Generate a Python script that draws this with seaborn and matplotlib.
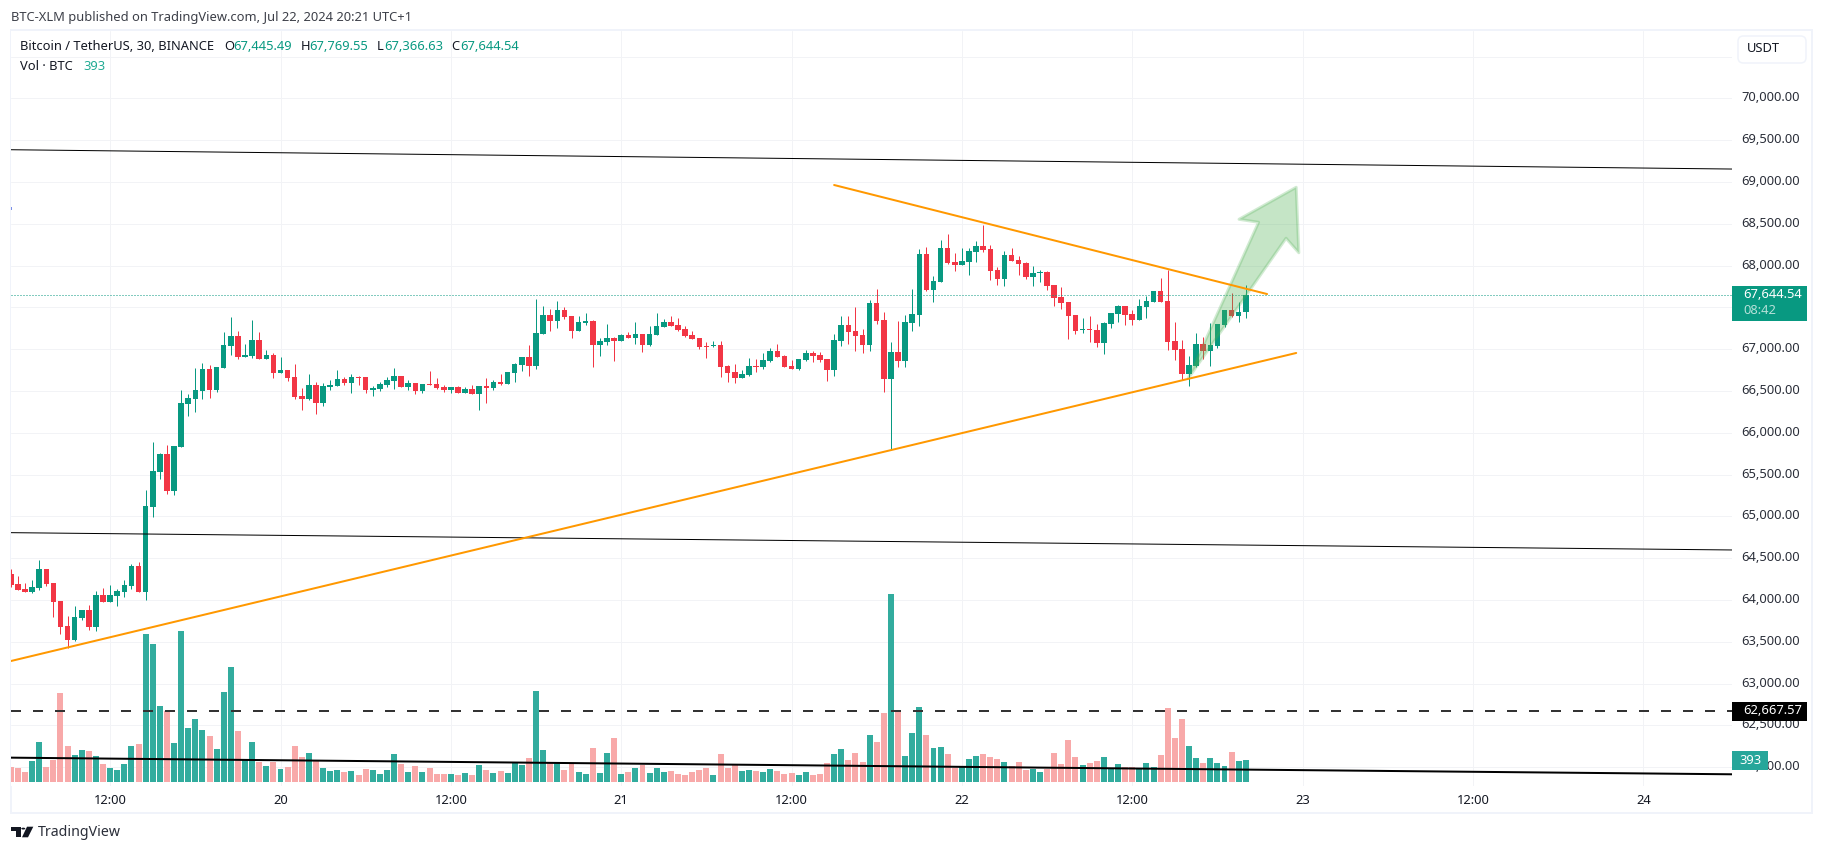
import numpy as np
import pandas as pd
import matplotlib
matplotlib.use("Agg")
import matplotlib.pyplot as plt
from matplotlib.patches import Polygon, Rectangle, Circle, FancyBboxPatch
from matplotlib.transforms import ScaledTranslation
import seaborn as sns

# bars are counted from 20 Jul 00:00, one step = 30 minutes
first_bar = -38
opens = [
    64312, 64192, 64132, 64096, 64144, 64372, 64204, 63988, 63688, 63520,
    63784, 63880, 63676, 64060, 63976, 64048, 64096, 64168, 64408, 64096,
    65116, 65536, 65740, 65308, 65824, 66340, 66400, 66496, 66760, 66508,
    66772, 67036, 67156, 66904, 66916, 67108, 66880, 66928, 66712, 66748,
    66664, 66436, 66400, 66568, 66352, 66544, 66556, 66640, 66592, 66664,
    66664, 66508, 66520, 66568, 66616, 66676, 66544, 66592, 66496, 66580,
    66580, 66544, 66508, 66544, 66472, 66520, 66460, 66556, 66532, 66604,
    66580, 66712, 66808, 66904, 66796, 67180, 67408, 67336, 67468, 67396,
    67216, 67312, 67336, 67048, 67084, 67132, 67096, 67168, 67132, 67180,
    67048, 67168, 67264, 67324, 67288, 67240, 67168, 67132, 67036, 67036,
    67048, 66796, 66724, 66652, 66688, 66796, 66784, 66856, 66976, 66916,
    66796, 66760, 66868, 66952, 66928, 66880, 66748, 67096, 67288, 67216,
    67168, 67048, 67552, 67352, 66644, 66968, 66860, 67316, 67412, 68132,
    67712, 67808, 68204, 68048, 68012, 68048, 68156, 68228, 68192, 67952,
    67844, 68120, 68072, 68036, 67868, 67916, 67928, 67772, 67628, 67568,
    67412, 67232, 67244, 67232, 67076, 67304, 67424, 67520, 67424, 67352,
    67508, 67568, 67700, 67580, 67100, 67004, 66704, 66800, 67064, 66980,
    67040, 67292, 67472, 67400, 67445.49,
]
closes = [
    64180, 64120, 64096, 64156, 64372, 64192, 63976, 63676, 63520, 63796,
    63880, 63676, 64060, 63976, 64060, 64108, 64180, 64408, 64096, 65128,
    65548, 65740, 65308, 65836, 66352, 66412, 66508, 66760, 66508, 66784,
    67048, 67156, 66904, 66928, 67108, 66880, 66928, 66712, 66748, 66652,
    66424, 66400, 66568, 66352, 66556, 66568, 66640, 66592, 66664, 66652,
    66508, 66532, 66580, 66628, 66676, 66544, 66592, 66496, 66580, 66568,
    66532, 66508, 66544, 66472, 66520, 66460, 66556, 66532, 66604, 66580,
    66724, 66820, 66904, 66796, 67192, 67408, 67336, 67468, 67384, 67216,
    67324, 67336, 67048, 67096, 67132, 67096, 67168, 67132, 67180, 67048,
    67180, 67276, 67324, 67276, 67228, 67156, 67120, 67024, 67024, 67048,
    66784, 66712, 66652, 66700, 66796, 66784, 66868, 66976, 66904, 66784,
    66760, 66880, 66952, 66916, 66868, 66748, 67108, 67288, 67204, 67156,
    67048, 67552, 67336, 66644, 66968, 66860, 67328, 67424, 68132, 67712,
    67820, 68204, 68036, 68012, 68060, 68168, 68228, 68180, 67940, 67844,
    68120, 68060, 68024, 67868, 67916, 67928, 67760, 67616, 67556, 67400,
    67220, 67244, 67232, 67076, 67316, 67436, 67520, 67412, 67352, 67520,
    67580, 67700, 67568, 67088, 66992, 66704, 66812, 67064, 66980, 67052,
    67304, 67472, 67400, 67448, 67644.54,
]
highs = [
    64372, 64288, 64204, 64240, 64480, 64372, 64204, 63988, 63808, 63928,
    63880, 63940, 64108, 64144, 64180, 64132, 64240, 64432, 64456, 65320,
    65884, 65752, 65848, 65836, 66508, 66460, 66772, 66832, 66808, 66784,
    67204, 67384, 67216, 67060, 67348, 67204, 66988, 66952, 66904, 66748,
    66820, 66532, 66700, 66604, 66592, 66628, 66748, 66664, 66700, 66676,
    66664, 66556, 66604, 66664, 66772, 66676, 66628, 66592, 66580, 66736,
    66652, 66568, 66544, 66556, 66544, 66568, 66556, 66652, 66628, 66700,
    66724, 66832, 66904, 67048, 67600, 67516, 67480, 67576, 67504, 67396,
    67396, 67432, 67348, 67132, 67300, 67144, 67180, 67204, 67324, 67180,
    67276, 67432, 67360, 67396, 67372, 67276, 67216, 67132, 67084, 67096,
    67096, 66808, 66820, 66748, 66892, 66880, 66952, 67012, 67060, 66928,
    66868, 66880, 66988, 66976, 66964, 66880, 67180, 67396, 67396, 67504,
    67240, 67588, 67720, 67448, 67088, 67340, 67412, 67724, 68192, 68216,
    67880, 68300, 68372, 68144, 68204, 68204, 68288, 68480, 68240, 67988,
    68168, 68204, 68108, 68048, 68000, 67952, 67940, 67772, 67748, 67568,
    67412, 67376, 67400, 67304, 67328, 67436, 67532, 67520, 67472, 67604,
    67640, 67700, 67856, 67952, 67328, 67112, 66920, 67196, 67148, 67316,
    67304, 67472, 67676, 67568, 67769.55,
]
lows = [
    64156, 64120, 64096, 64084, 64120, 64168, 63796, 63592, 63424, 63508,
    63760, 63640, 63628, 63976, 63976, 63928, 64036, 64132, 64096, 64000,
    64996, 65452, 65272, 65260, 65824, 66196, 66244, 66400, 66412, 66484,
    66772, 66928, 66880, 66904, 66892, 66880, 66880, 66652, 66712, 66616,
    66400, 66268, 66388, 66220, 66316, 66508, 66556, 66568, 66472, 66568,
    66472, 66436, 66496, 66544, 66520, 66544, 66508, 66460, 66472, 66568,
    66520, 66484, 66472, 66472, 66472, 66460, 66268, 66352, 66508, 66568,
    66580, 66604, 66736, 66676, 66760, 67180, 67216, 67252, 67360, 67132,
    67216, 67288, 66784, 66916, 67048, 66856, 67096, 67132, 67060, 66964,
    67036, 67168, 67264, 67276, 67216, 67144, 67120, 67000, 66892, 67024,
    66664, 66604, 66592, 66652, 66676, 66724, 66760, 66844, 66904, 66784,
    66760, 66748, 66856, 66844, 66844, 66616, 66676, 67036, 67060, 66976,
    66952, 66976, 67300, 66488, 65792, 66788, 66788, 67220, 67280, 67700,
    67568, 67808, 68024, 67940, 68012, 67892, 68048, 68156, 67832, 67772,
    67760, 68060, 67892, 67844, 67760, 67808, 67712, 67520, 67484, 67124,
    67184, 67196, 67088, 67028, 66944, 67256, 67328, 67292, 67292, 67352,
    67376, 67568, 67568, 66992, 66872, 66632, 66560, 66788, 66884, 66800,
    67016, 67268, 67388, 67328, 67366.63,
]
volumes = [
    264, 246, 174, 372, 714, 264, 390, 1596, 642, 480,
    570, 552, 462, 318, 246, 210, 318, 642, 678, 2658,
    2478, 1362, 1272, 696, 2712, 966, 1128, 930, 822, 588,
    1614, 2064, 912, 390, 714, 354, 282, 354, 228, 264,
    642, 444, 516, 372, 246, 192, 210, 174, 192, 120,
    228, 210, 138, 210, 498, 318, 174, 282, 174, 246,
    138, 138, 138, 120, 156, 120, 300, 210, 156, 192,
    156, 336, 300, 426, 1632, 570, 336, 336, 210, 336,
    174, 138, 606, 156, 516, 786, 138, 174, 246, 300,
    156, 246, 174, 192, 138, 120, 174, 210, 246, 120,
    498, 246, 300, 192, 210, 192, 174, 228, 192, 138,
    156, 120, 174, 120, 138, 336, 498, 588, 390, 516,
    354, 840, 714, 1236, 3378, 1254, 462, 876, 1344, 840,
    606, 624, 498, 252, 264, 408, 462, 498, 444, 408,
    354, 282, 354, 210, 228, 174, 228, 516, 318, 750,
    444, 300, 336, 372, 444, 228, 318, 264, 264, 228,
    336, 264, 480, 1326, 786, 1128, 642, 426, 336, 426,
    336, 282, 534, 372, 393,
]

# drawn trend lines (bar position, price)
channel_top_x, channel_top_y = [-37.97, 204.5], [69385, 69154]
channel_mid_x, channel_mid_y = [-37.97, 204.5], [64805, 64598]
channel_low_x, channel_low_y = [-37.97, 204.5], [62114, 61915]
support_x, support_y = [-37.97, 143.1], [63270, 66954]
resist_x, resist_y = [78.0, 139.0], [68963, 67659]
arrow_x = [127.9, 137.8, 135.05, 143.1, 143.47, 141.67]
arrow_y = [66651, 68517, 68553, 68936, 68153, 68326]
dashed_level = 62667.57
last_price = 67644.54

price_ticks = [62000 + 500 * k for k in range(18)]
time_ticks = [-24, 0, 24, 48, 72, 96, 120, 144, 168, 192]
time_labels = ["12:00", "20", "12:00", "21", "12:00", "22", "12:00", "23", "12:00", "24"]

GREEN = "#089981"
RED = "#F23645"
VOL_GREEN = "#32AC9E"
VOL_RED = "#F8A9A9"
GRID = "#F2F3F6"
FRAME = "#F0F3FA"
INK = "#131722"
PX = 0.72  # one pixel in points at dpi 100
W, H = 1824, 852

sns.set_theme(style="white")
plt.rcParams["font.family"] = ["Noto Sans", "DejaVu Sans"]

df = pd.DataFrame({"open": opens, "high": highs, "low": lows, "close": closes, "vol": volumes})
df["bar"] = np.arange(first_bar, first_bar + len(df))
df["up"] = df["close"] >= df["open"]

fig = plt.figure(figsize=(W / 100, H / 100), dpi=100, facecolor="white")


def fx(x, y):
    return x / W, 1 - y / H


# pane runs from x=11 to 1732 and y=31 to 786 in pixels
ax = fig.add_axes([11 / W, 1 - 786 / H, (1732 - 11) / W, (786 - 31) / H])
ax.set_facecolor("white")
ax.set_xlim(-37.97, 204.5)
ax.set_ylim(61775, 70805)
for s in ax.spines.values():
    s.set_visible(False)
ax.grid(True, color=GRID, lw=PX)
ax.set_axisbelow(True)

# candles
wick_colors = [GREEN if u else RED for u in df["up"]]
ax.vlines(df["bar"], df["low"], df["high"], colors=wick_colors, lw=PX, zorder=3)
body_low = df[["open", "close"]].min(axis=1)
body_h = (df["close"] - df["open"]).abs().clip(lower=12)
ax.bar(df["bar"], body_h, bottom=body_low, width=0.78, color=wick_colors, linewidth=0, zorder=4)

# volume overlay, own scale of 18 BTC per pixel, baseline at y=781.7
ax_vol = ax.twinx()
ax_vol.set_zorder(ax.get_zorder() + 1)
ax_vol.patch.set_visible(False)
sns.barplot(data=df, x="bar", y="vol", hue="up", palette={True: VOL_GREEN, False: VOL_RED},
            native_scale=True, dodge=False, width=0.84, linewidth=0, saturation=1, legend=False, ax=ax_vol)
ax_vol.set_xlim(-37.97, 204.5)
ax_vol.set_ylim(-77, 13513)
ax_vol.axis("off")

# lines and drawings sit above the volume bars
ax_top = ax.twinx()
ax_top.set_zorder(ax_vol.get_zorder() + 1)
ax_top.patch.set_visible(False)

ax_top.axhline(last_price, color=GREEN, lw=PX, ls=(0, (1, 2)), zorder=2)
ax_top.axhline(dashed_level, color="#333333", lw=2 * PX, ls=(0, (5, 6)), zorder=3)
sns.lineplot(x=channel_top_x, y=channel_top_y, color="black", lw=PX, ax=ax_top, zorder=3)
sns.lineplot(x=channel_mid_x, y=channel_mid_y, color="black", lw=PX, ax=ax_top, zorder=3)
sns.lineplot(x=channel_low_x, y=channel_low_y, color="black", lw=2 * PX, ax=ax_top, zorder=3)
ax_top.add_patch(Polygon(list(zip(arrow_x, arrow_y)), closed=True, facecolor="#4CAF50", alpha=0.32,
                         edgecolor="none", zorder=4))
ax_top.add_patch(Polygon(list(zip(arrow_x, arrow_y)), closed=True, fill=False, edgecolor="#4CAF50",
                         alpha=0.25, lw=3 * PX, joinstyle="round", zorder=4))
sns.lineplot(x=support_x, y=support_y, color="#FF9800", lw=2 * PX, ax=ax_top, zorder=5)
sns.lineplot(x=resist_x, y=resist_y, color="#FF9800", lw=2 * PX, ax=ax_top, zorder=5)
ax_top.set_xlim(-37.97, 204.5)
ax_top.set_ylim(61775, 70805)
ax_top.axis("off")

# ticks go last, twinx moves the main axis labels back to the left
ax.set_xlim(-37.97, 204.5)
ax.set_ylim(61775, 70805)
ax.yaxis.tick_right()
ax.set_yticks(price_ticks)
ax.set_yticklabels([f"{p:,.2f}" if p <= 70000 else "" for p in price_ticks])
ax.set_xticks(time_ticks)
ax.set_xticklabels(time_labels)
ax.tick_params(axis="y", length=0, pad=6.5, labelsize=9.3, labelcolor="#2A2E39")
ax.tick_params(axis="x", length=0, pad=6, labelsize=9.3, labelcolor=INK)
# price labels sit about 2 px higher than matplotlib centres them
nudge = ScaledTranslation(0, 2 / 100, fig.dpi_scale_trans)
for tick in ax.yaxis.get_major_ticks():
    tick.label2.set_transform(tick.label2.get_transform() + nudge)

# frame around the widget
fig.add_artist(Rectangle(fx(11, 813), 1801 / W, 783 / H, transform=fig.transFigure, fill=False,
                         edgecolor=FRAME, lw=2 * PX, zorder=0))
fig.add_artist(Rectangle(fx(11, 209.5), 1.5 / W, 3 / H, transform=fig.transFigure,
                         facecolor="#7A8FE8", edgecolor="none", zorder=10))


def label(x, y, s, color=INK, size=9.3, ha="left", **kw):
    fig.text(*fx(x, y), s, color=color, fontsize=size, ha=ha, va="center", zorder=12, **kw)


label(11.5, 17, "BTC-XLM published on TradingView.com, Jul 22, 2024 20:21 UTC+1", color="#3C3F48")
label(20, 47, "Bitcoin / TetherUS, 30, BINANCE")
for x_l, letter, x_v, value in [(224, "O", 233, "67,445.49"), (300.5, "H", 309, "67,769.55"),
                                (377, "L", 384, "67,366.63"), (451.5, "C", 460, "67,644.54")]:
    label(x_l, 47, letter)
    label(x_v, 47, value, color=GREEN)
label(20, 66, "Vol · BTC")
label(83, 66, "393", color="#22AB94")
label(38, 833, "TradingView", color="#2A2E39", size=10.2)

# USDT button
fig.add_artist(FancyBboxPatch(fx(1738, 63), 68 / W, 27 / H, boxstyle="round,pad=0,rounding_size=0.003",
                              transform=fig.transFigure, mutation_aspect=2.14, facecolor="white",
                              edgecolor=FRAME, lw=1.5 * PX, zorder=9))
label(1747, 49, "USDT", size=9.3)

# price tags on the axis
fig.add_artist(Rectangle(fx(1732, 321), 75 / W, 35 / H, transform=fig.transFigure, facecolor=GREEN,
                         edgecolor="none", zorder=10))
label(1743, 295, "67,644.54", color="white", fontweight="semibold")
label(1743, 310, "08:42", color="#B5E0D8")
fig.add_artist(Rectangle(fx(1732, 720.7), 75 / W, 19 / H, transform=fig.transFigure, facecolor="black",
                         edgecolor="none", zorder=10))
label(1743, 711, "62,667.57", color="white", fontweight="semibold")
fig.add_artist(Rectangle(fx(1732, 770), 36.5 / W, 19.5 / H, transform=fig.transFigure, facecolor="#26A69A",
                         edgecolor="none", zorder=10))
label(1750, 760.5, "393", color="white", ha="center")

# logo
logo = [[(11, 826.7), (21, 826.7), (21, 837.3), (16, 837.3), (16, 831), (11, 831)],
        [(27, 826.7), (33.3, 826.7), (28, 837.3), (22, 837.3)]]
for pts in logo:
    fig.add_artist(Polygon([fx(*p) for p in pts], transform=fig.transFigure, facecolor=INK,
                           edgecolor="none", zorder=10))
fig.add_artist(Circle(fx(23.3, 828.6), 2 / W, transform=fig.transFigure, facecolor=INK,
                      edgecolor="none", zorder=10))

fig.savefig("out.png", dpi=100)
